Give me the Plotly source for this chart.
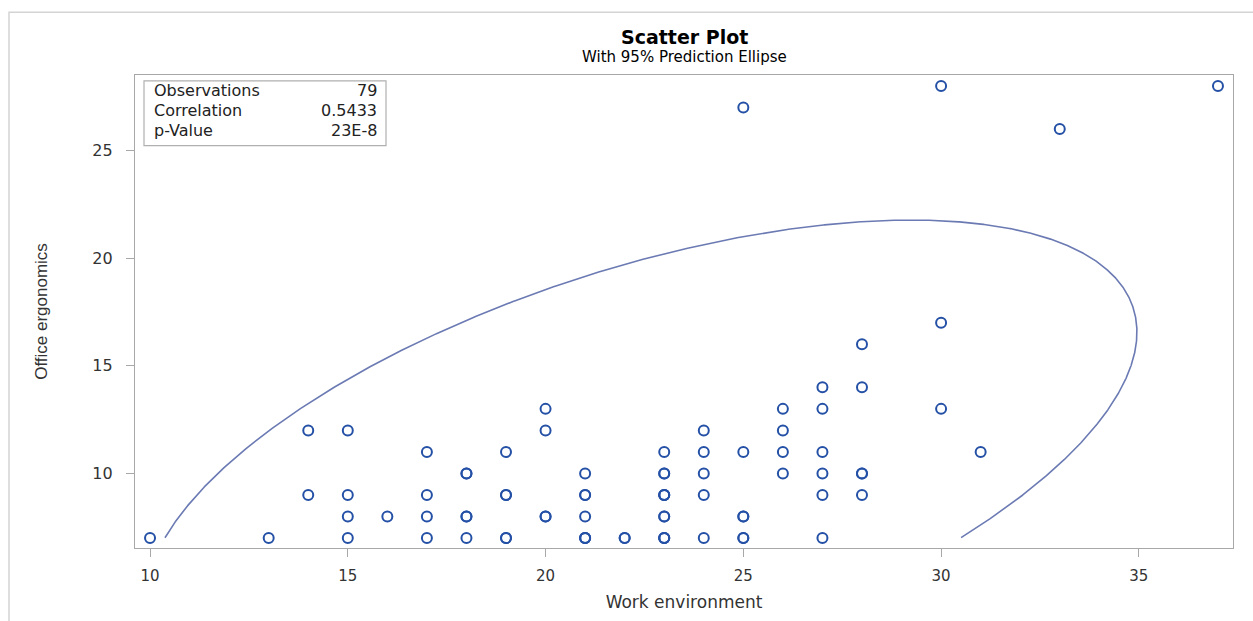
import numpy as np
import plotly.graph_objects as go

# ---------------- data ----------------
work_environment = [
    10, 13, 14, 14, 15, 15, 15, 15, 16, 17, 17, 17, 17,
    18, 18, 18, 18, 18, 19, 19, 19, 19, 19, 20, 20, 20, 20,
    21, 21, 21, 21, 21, 21, 21, 22, 22,
    23, 23, 23, 23, 23, 23, 23, 23, 23, 23, 23,
    24, 24, 24, 24, 24, 25, 25, 25, 25, 25, 25,
    26, 26, 26, 26, 27, 27, 27, 27, 27, 27,
    28, 28, 28, 28, 28, 30, 30, 30, 31, 33, 37,
]
office_ergonomics = [
    7, 7, 12, 9, 12, 9, 8, 7, 8, 11, 9, 8, 7,
    10, 10, 8, 8, 7, 11, 9, 9, 7, 7, 13, 12, 8, 8,
    10, 9, 9, 8, 7, 7, 7, 7, 7,
    11, 10, 10, 9, 9, 9, 8, 8, 7, 7, 7,
    12, 11, 10, 9, 7, 27, 11, 8, 8, 7, 7,
    13, 12, 11, 10, 14, 13, 11, 10, 9, 7,
    16, 14, 10, 10, 9, 28, 17, 13, 11, 26, 28,
]
stat_labels = ["Observations", "Correlation", "p-Value"]
stat_values = ["79", "0.5433", "23E-8"]
x_ticks = [10, 15, 20, 25, 30, 35]
y_ticks = [10, 15, 20, 25]
alpha = 0.05

# ---------------- 95% prediction ellipse from the data ----------------
X = np.column_stack([work_environment, office_ergonomics]).astype(float)
n = X.shape[0]
mean = X.mean(axis=0)
cov = np.cov(X, rowvar=False)
nu = n - 2
f_crit = (nu / 2.0) * (alpha ** (-2.0 / nu) - 1.0)      # F(0.95; 2, n-2)
radius = np.sqrt(2.0 * (n - 1) / (n - 2) * (1 + 1.0 / n) * f_crit)
L = np.linalg.cholesky(cov)
t = np.linspace(0, 2 * np.pi, 3000)
pts = mean[:, None] + radius * (L @ np.vstack([np.cos(t), np.sin(t)]))
ex, ey = pts[0].copy(), pts[1].copy()
ymin = min(office_ergonomics)
mask = ey < ymin
ex_list = [None if m else v for v, m in zip(ex, mask)]
ey_list = [None if m else v for v, m in zip(ey, mask)]
idx = int(np.argmax(mask)) if mask.any() else 0
ex_list = ex_list[idx:] + ex_list[:idx]
ey_list = ey_list[idx:] + ey_list[:idx]

# ---------------- layout geometry (pixels) ----------------
W, H = 1253, 621
PL, PR, PT, PB = 135, 1233, 75, 550


def px(p):
    return (p - PL) / (PR - PL)


def py(p):
    return (PB - p) / (PB - PT)


fig = go.Figure()
fig.add_trace(go.Scatter(
    x=ex_list, y=ey_list, mode="lines",
    line=dict(color="#6b7ab3", width=1.6),
    hoverinfo="skip", showlegend=False, connectgaps=False,
))
fig.add_trace(go.Scatter(
    x=work_environment, y=office_ergonomics, mode="markers",
    marker=dict(symbol="circle-open", size=10, color="#2450a6",
                line=dict(width=2, color="#2450a6")),
    showlegend=False,
))

axis_common = dict(
    showgrid=False, zeroline=False, showline=True, mirror=True,
    linecolor="#a8a8a8", linewidth=1.2,
    ticks="outside", ticklen=8, tickcolor="#a8a8a8", tickwidth=1.2,
)
fig.update_xaxes(
    range=[9.62, 37.38], tickvals=x_ticks,
    tickfont=dict(family="DejaVu Sans", size=15, color="#333333"),
    ticklabelstandoff=6,
    title=dict(text="Work environment",
               font=dict(family="DejaVu Sans", size=17, color="#333333"),
               standoff=12),
    **axis_common,
)
fig.update_yaxes(
    range=[6.537, 28.51], tickvals=y_ticks,
    tickfont=dict(family="DejaVu Sans", size=16, color="#333333"),
    ticklabelstandoff=10,
    title=dict(text="Office ergonomics",
               font=dict(family="Liberation Sans", size=17, color="#333333"),
               standoff=40),
    **axis_common,
)

annotations = [
    dict(text="<b>Scatter Plot</b>", x=0.5, y=py(37), xref="paper", yref="paper",
         showarrow=False, xanchor="center", yanchor="middle",
         font=dict(family="DejaVu Sans", size=19, color="#000000")),
    dict(text="With 95% Prediction Ellipse", x=0.5, y=py(57), xref="paper", yref="paper",
         showarrow=False, xanchor="center", yanchor="middle",
         font=dict(family="DejaVu Sans", size=15, color="#000000")),
]
row_y = [91, 111, 131]
for lab, val, ry in zip(stat_labels, stat_values, row_y):
    annotations.append(dict(text=lab, x=px(152), y=py(ry), xref="paper", yref="paper",
                            showarrow=False, xanchor="left", yanchor="middle",
                            font=dict(family="DejaVu Sans", size=16, color="#222222")))
    annotations.append(dict(text=val, x=px(379), y=py(ry), xref="paper", yref="paper",
                            showarrow=False, xanchor="right", yanchor="middle",
                            font=dict(family="DejaVu Sans", size=16, color="#222222")))

shapes = [
    # stats box
    dict(type="rect", xref="paper", yref="paper",
         x0=px(144), x1=px(386), y0=py(146), y1=py(81),
         line=dict(color="#b0b0b0", width=1.2), fillcolor="rgba(0,0,0,0)"),
    # outer page frame
    dict(type="rect", xref="paper", yref="paper",
         x0=px(9), x1=px(1270), y0=py(640), y1=py(12),
         line=dict(color="#d4d4d4", width=1.5), fillcolor="rgba(0,0,0,0)", layer="below"),
]

fig.update_layout(
    width=W, height=H,
    margin=dict(l=PL, r=W - PR, t=PT, b=H - PB),
    plot_bgcolor="white", paper_bgcolor="white",
    annotations=annotations, shapes=shapes,
    showlegend=False,
)

fig.write_html(
    "out.html",
    config={"displayModeBar": False},
    post_script="document.body.style.margin='0px';document.documentElement.style.overflow='hidden';",
)
